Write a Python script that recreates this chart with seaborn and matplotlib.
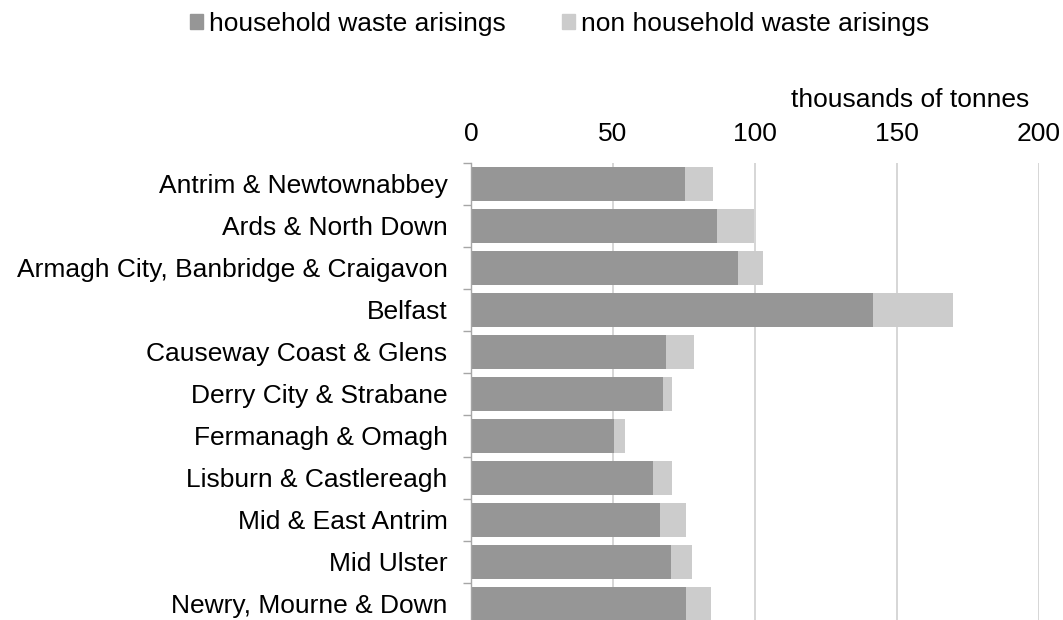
import numpy as np
import pandas as pd
import matplotlib
matplotlib.use("Agg")
import matplotlib.pyplot as plt
import seaborn as sns
from matplotlib.patches import Patch

# data (thousands of tonnes)
councils = ["Antrim & Newtownabbey", "Ards & North Down", "Armagh City, Banbridge & Craigavon",
            "Belfast", "Causeway Coast & Glens", "Derry City & Strabane", "Fermanagh & Omagh",
            "Lisburn & Castlereagh", "Mid & East Antrim", "Mid Ulster", "Newry, Mourne & Down"]
household = [75.5, 86.7, 94.0, 141.5, 68.7, 67.6, 50.4, 64.1, 66.5, 70.4, 75.7]
non_household = [9.6, 13.1, 8.9, 28.3, 9.7, 3.3, 3.7, 6.6, 9.1, 7.4, 8.8]
x_ticks = [0, 50, 100, 150, 200]

dark = "#969696"
light = "#cccccc"

df = pd.DataFrame({"council": councils, "household": household, "non_household": non_household})
df["total"] = df["household"] + df["non_household"]

sns.set_style("white")
plt.rcParams["font.family"] = ["Liberation Sans", "DejaVu Sans"]
plt.rcParams["text.color"] = "black"
plt.rcParams["xtick.color"] = "black"
plt.rcParams["ytick.color"] = "black"

fs = 19
fig = plt.figure(figsize=(10.63, 6.2), dpi=100)
ax = fig.add_axes([0.4431, -0.0076, 0.5343, 0.7452])

# stacked: total first (light), household over it (dark)
sns.barplot(data=df, x="total", y="council", color=light, width=0.81, linewidth=0, saturation=1, ax=ax)
sns.barplot(data=df, x="household", y="council", color=dark, width=0.81, linewidth=0, saturation=1, ax=ax)

ax.set_xlim(0, 200)
ax.set_ylim(len(councils) - 0.5, -0.5)
ax.set_xticks(x_ticks)
ax.xaxis.tick_top()
ax.tick_params(axis="x", length=0, pad=12, labelsize=fs)
ax.tick_params(axis="y", length=0, pad=17, labelsize=fs)
ax.set_yticks(np.arange(-0.5, len(councils), 1), minor=True)
ax.tick_params(axis="y", which="minor", length=6, width=1, color="#a6a6a6", left=True)
ax.set_xlabel("")
ax.set_ylabel("")

ax.grid(axis="x", color="#d0d0d0", linewidth=1.2)
ax.set_axisbelow(True)
for s in ["top", "right", "bottom"]:
    ax.spines[s].set_visible(False)
ax.spines["left"].set_color("#a6a6a6")
ax.spines["left"].set_linewidth(1)

fig.text(0.968, 0.8394, "thousands of tonnes", ha="right", va="center", fontsize=fs)

handles = [Patch(color=dark, label="household waste arisings"),
           Patch(color=light, label="non household waste arisings")]
fig.legend(handles=handles, loc="center", bbox_to_anchor=(0.5265, 0.962), ncol=2, frameon=False,
           fontsize=fs, handlelength=0.5, handleheight=0.5, handletextpad=0.25, columnspacing=2.1)

fig.savefig("out.png", dpi=100)
